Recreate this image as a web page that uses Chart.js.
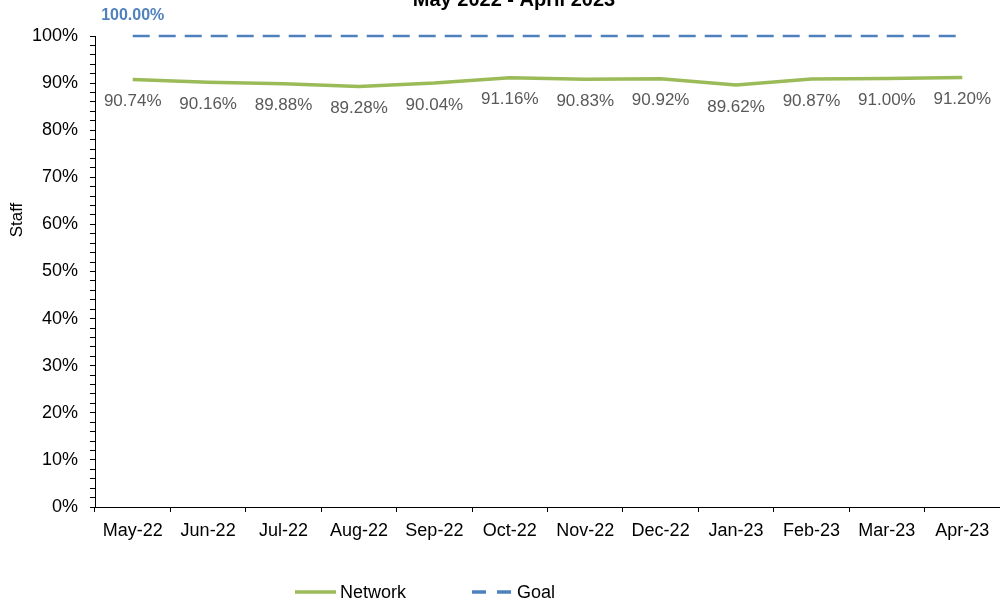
<!DOCTYPE html>
<html>
<head>
<meta charset="utf-8">
<script src="https://cdn.jsdelivr.net/npm/chart.js@4"></script>
<style>
  html, body { margin: 0; padding: 0; background: #fff; }
  #wrap { width: 1000px; height: 604px; position: relative; }
</style>
</head>
<body>
<div id="wrap"><canvas id="staffchart"></canvas></div>
<script>
const months = ['May-22', 'Jun-22', 'Jul-22', 'Aug-22', 'Sep-22', 'Oct-22', 'Nov-22', 'Dec-22', 'Jan-23', 'Feb-23', 'Mar-23', 'Apr-23'];
const network = [90.74, 90.16, 89.88, 89.28, 90.04, 91.16, 90.83, 90.92, 89.62, 90.87, 91.00, 91.20];
const goal = [100, 100, 100, 100, 100, 100, 100, 100, 100, 100, 100, 100];
const chartTitle = 'May 2022 - April 2023';

const GREEN = '#9BBB59';
const BLUE = '#4F81BD';
const FONT = '"Liberation Sans", Arial, sans-serif';

// labels under the network points, "100.00%" over the first goal point, titles and legend
const extras = {
  id: 'extras',
  afterDatasetsDraw(chart) {
    const ctx = chart.ctx;
    ctx.save();
    ctx.textAlign = 'center';
    ctx.textBaseline = 'middle';
    ctx.fillStyle = '#595959';
    ctx.font = '17px ' + FONT;
    chart.getDatasetMeta(0).data.forEach((pt, i) => {
      ctx.fillText(network[i].toFixed(2) + '%', pt.x, pt.y + 22);
    });
    const g = chart.getDatasetMeta(1).data[0];
    ctx.fillStyle = BLUE;
    ctx.font = 'bold 16px ' + FONT;
    ctx.fillText(goal[0].toFixed(2) + '%', g.x, g.y - 20);

    // title, cut off at the top like the picture
    ctx.fillStyle = '#000';
    ctx.font = 'bold 20px ' + FONT;
    ctx.textBaseline = 'alphabetic';
    ctx.fillText(chartTitle, 514, 6);

    // y axis title
    ctx.save();
    ctx.translate(22, 220);
    ctx.rotate(-Math.PI / 2);
    ctx.font = '17px ' + FONT;
    ctx.textBaseline = 'alphabetic';
    ctx.fillText('Staff', 0, 0);
    ctx.restore();

    // legend
    const ly = 592;
    ctx.lineWidth = 3.5;
    ctx.strokeStyle = GREEN;
    ctx.beginPath(); ctx.moveTo(295, ly); ctx.lineTo(336, ly); ctx.stroke();
    ctx.strokeStyle = BLUE;
    ctx.setLineDash([14, 11]);
    ctx.beginPath(); ctx.moveTo(472, ly); ctx.lineTo(511, ly); ctx.stroke();
    ctx.setLineDash([]);
    ctx.fillStyle = '#000';
    ctx.font = '18px ' + FONT;
    ctx.textAlign = 'left';
    ctx.textBaseline = 'middle';
    ctx.fillText('Network', 340, ly + 1);
    ctx.fillText('Goal', 517, ly + 1);
    ctx.restore();
  }
};

const ctx = document.getElementById('staffchart').getContext('2d');
let staffChart = new Chart(ctx, {
  type: 'line',
  data: {
    labels: months,
    datasets: [{
      label: 'Network',
      data: network,
      borderColor: GREEN,
      backgroundColor: GREEN,
      borderWidth: 3.5,
      pointRadius: 0,
      tension: 0,
      clip: false
    }, {
      label: 'Goal',
      data: goal,
      borderColor: BLUE,
      backgroundColor: BLUE,
      borderWidth: 2.5,
      borderDash: [17, 9],
      pointRadius: 0,
      tension: 0,
      clip: false
    }]
  },
  options: {
    responsive: true,
    maintainAspectRatio: false,
    animation: false,
    layout: { padding: { top: 36, right: 0, bottom: 57, left: 0 } },
    plugins: {
      legend: { display: false },
      title: { display: false },
      tooltip: { enabled: false }
    },
    scales: {
      x: {
        offset: true,
        afterFit(scale) { scale.height = 40; },
        grid: { offset: true, drawOnChartArea: false, drawTicks: true, tickLength: 5, color: '#000' },
        border: { display: true, color: '#000', width: 1 },
        ticks: { color: '#000', font: { family: FONT, size: 18 }, padding: 8, maxRotation: 0, autoSkip: false }
      },
      y: {
        min: 0,
        max: 100,
        afterFit(scale) { scale.width = 95; },
        grid: { drawOnChartArea: false, drawTicks: true, tickLength: 5, color: '#000' },
        border: { display: true, color: '#000', width: 1 },
        ticks: {
          stepSize: 2,
          autoSkip: false,
          color: '#000',
          padding: 12,
          font: { family: FONT, size: 18 },
          callback: v => (v % 10 === 0 ? v + '%' : '')
        }
      }
    }
  },
  plugins: [extras]
});
</script>
</body>
</html>
